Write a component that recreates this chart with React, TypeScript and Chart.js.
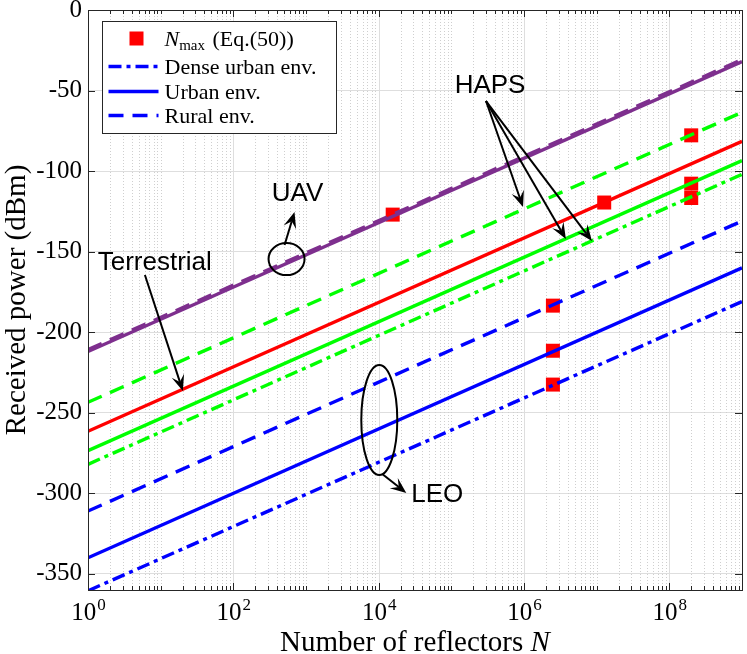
import React, { useEffect, useRef } from 'react';
import { Chart, registerables } from 'chart.js';

Chart.register(...registerables);

// ---------- data ----------
const N_RANGE = [1, 1e9];
// received power (dBm) at N = 1 and N = 1e9
const UAV_URBAN = [-212, -32];
const UAV_RURAL = [-210.8, -30.8];
const TERRESTRIAL = [-261.5, -81.5];
const HAPS_RURAL = [-243.5, -63.5];
const HAPS_URBAN = [-273.5, -93.5];
const HAPS_DENSE = [-282, -102];
const LEO_RURAL = [-311, -131];
const LEO_URBAN = [-340, -160];
const LEO_DENSE = [-360.5, -181];

// N_max markers (Eq. 50)
const NMAX_N = [1.56e4, 1.27e7, 2.0e8, 2.0e8, 2.0e8, 2.5e6, 2.5e6, 2.5e6];
const NMAX_P = [-127, -119.5, -77.8, -107.8, -116.7, -183.5, -211.5, -232.5];

const X_TICK_EXPONENTS = [0, 2, 4, 6, 8];
const Y_TICKS = [-350, -300, -250, -200, -150, -100, -50, 0];

// annotations (data coordinates: [N, dBm])
const UAV_LABEL = [764, -114.2];
const UAV_ELLIPSE = [540, -154.6];
const UAV_ARROW = [[507, -145.9], [695, -125.4]];
const TERR_LABEL = [8.3, -157];
const TERR_ARROW = [[6.07, -164.5], [20.2, -236.5]];
const HAPS_LABEL = [3.41e5, -47.2];
const HAPS_ARROW_FROM = [3.0e5, -56.5];
const HAPS_ARROW_TO = [[9.7e5, -122.3], [3.77e6, -142.1], [8.6e6, -143.4]];
const LEO_ELLIPSE = [1.02e4, -254.5];
const LEO_ARROW = [[1.12e4, -288], [2.4e4, -299.8]];
const LEO_LABEL = [2.81e4, -301];

// ---------- styles ----------
const SERIF = '"Liberation Serif", "Times New Roman", serif';
const SANS = '"Liberation Sans", Arial, sans-serif';
const PURPLE = '#7E2F8E';
const GREEN = '#00FF00';
const RED = '#FF0000';
const BLUE = '#0000FF';
const DASH = [15, 9];
const DASHDOT = [13, 5, 4, 5];
const AXIS = '#262626';
const LW = 3.4;

const line = (label: string, vals: number[], color: string, dash: number[]) => ({
  type: 'scatter' as const,
  label,
  data: [
    { x: N_RANGE[0], y: vals[0] },
    { x: N_RANGE[1], y: vals[1] },
  ],
  showLine: true,
  borderColor: color,
  borderWidth: LW,
  borderDash: dash,
  pointRadius: 0,
  fill: false,
  order: 1,
});

function drawArrow(ctx: CanvasRenderingContext2D, x0: number, y0: number, x1: number, y1: number) {
  const a = Math.atan2(y1 - y0, x1 - x0);
  const c = Math.cos(a), s = Math.sin(a);
  const L = 16, W = 6.5;
  ctx.beginPath();
  ctx.moveTo(x0, y0);
  ctx.lineTo(x1 - c * L * 0.6, y1 - s * L * 0.6);
  ctx.stroke();
  ctx.beginPath();
  ctx.moveTo(x1, y1);
  ctx.lineTo(x1 - L * c + W * s, y1 - L * s - W * c);
  ctx.lineTo(x1 - 0.6 * L * c, y1 - 0.6 * L * s);
  ctx.lineTo(x1 - L * c - W * s, y1 - L * s + W * c);
  ctx.closePath();
  ctx.fill();
}

const zeroPad = (s: any) => {
  s.paddingTop = 0;
  s.paddingBottom = 0;
  s.paddingLeft = 0;
  s.paddingRight = 0;
};

const decorPlugin = {
  id: 'decor',
  beforeDatasetsDraw(chart: any) {
    const { ctx, chartArea: ca, scales } = chart;
    const xs = scales.x;
    ctx.save();
    ctx.lineWidth = 1;
    for (let d = 0; d <= 8; d++) {
      for (let k = 1; k <= 9; k++) {
        const v = k * Math.pow(10, d);
        if (k === 1 && d % 2 === 0) continue;
        const px = Math.round(xs.getPixelForValue(v)) + 0.5;
        if (px <= ca.left + 1 || px >= ca.right - 1) continue;
        ctx.strokeStyle = '#cfcfcf';
        ctx.setLineDash([1, 2]);
        ctx.beginPath();
        ctx.moveTo(px, ca.top);
        ctx.lineTo(px, ca.bottom);
        ctx.stroke();
      }
    }
    ctx.setLineDash([]);
    ctx.strokeStyle = '#dedede';
    for (const e of X_TICK_EXPONENTS) {
      const px = Math.round(xs.getPixelForValue(Math.pow(10, e))) + 0.5;
      if (px <= ca.left + 1) continue;
      ctx.beginPath();
      ctx.moveTo(px, ca.top);
      ctx.lineTo(px, ca.bottom);
      ctx.stroke();
    }
    ctx.restore();
  },
  afterDatasetsDraw(chart: any) {
    const { ctx, chartArea: ca, scales } = chart;
    const xs = scales.x, ys = scales.y;
    ctx.save();
    ctx.strokeStyle = AXIS;
    ctx.lineWidth = 1;
    ctx.setLineDash([]);
    // ticks (inside, MATLAB style)
    for (let d = 0; d <= 8; d++) {
      for (let k = 1; k <= 9; k++) {
        const v = k * Math.pow(10, d);
        const major = k === 1 && d % 2 === 0;
        const len = major ? 7 : 4;
        const px = Math.round(xs.getPixelForValue(v)) + 0.5;
        if (px > ca.right) continue;
        ctx.beginPath();
        ctx.moveTo(px, ca.bottom);
        ctx.lineTo(px, ca.bottom - len);
        ctx.moveTo(px, ca.top);
        ctx.lineTo(px, ca.top + len);
        ctx.stroke();
      }
    }
    for (const t of Y_TICKS) {
      const py = Math.round(ys.getPixelForValue(t)) + 0.5;
      ctx.beginPath();
      ctx.moveTo(ca.left, py);
      ctx.lineTo(ca.left + 7, py);
      ctx.moveTo(ca.right, py);
      ctx.lineTo(ca.right - 7, py);
      ctx.stroke();
    }
    ctx.strokeRect(Math.round(ca.left) + 0.5, Math.round(ca.top) + 0.5, Math.round(ca.right - ca.left), Math.round(ca.bottom - ca.top));

    // x tick labels 10^e
    ctx.fillStyle = '#000';
    ctx.textBaseline = 'alphabetic';
    ctx.textAlign = 'left';
    for (const e of X_TICK_EXPONENTS) {
      const px = xs.getPixelForValue(Math.pow(10, e));
      ctx.font = `25px ${SERIF}`;
      const w1 = ctx.measureText('10').width;
      ctx.font = `17px ${SERIF}`;
      const w2 = ctx.measureText(String(e)).width;
      const x0 = px - (w1 + w2) / 2;
      ctx.font = `25px ${SERIF}`;
      ctx.fillText('10', x0, ca.bottom + 30);
      ctx.font = `17px ${SERIF}`;
      ctx.fillText(String(e), x0 + w1 + 1, ca.bottom + 20);
    }
    // x title
    ctx.font = `29px ${SERIF}`;
    const t1 = 'Number of reflectors ';
    const w1 = ctx.measureText(t1).width;
    ctx.font = `italic 29px ${SERIF}`;
    const w2 = ctx.measureText('N').width;
    const cx = (ca.left + ca.right) / 2;
    const tx = cx - (w1 + w2) / 2;
    ctx.font = `29px ${SERIF}`;
    ctx.fillText(t1, tx, ca.bottom + 61);
    ctx.font = `italic 29px ${SERIF}`;
    ctx.fillText('N', tx + w1, ca.bottom + 61);
    ctx.restore();
  },
  afterDraw(chart: any) {
    const { ctx, chartArea: ca, scales } = chart;
    const xs = scales.x, ys = scales.y;
    const P = (p: number[]) => [xs.getPixelForValue(p[0]), ys.getPixelForValue(p[1])];
    ctx.save();
    ctx.beginPath();
    ctx.rect(ca.left, ca.top, ca.right - ca.left, ca.bottom - ca.top);
    ctx.clip();
    ctx.strokeStyle = '#000';
    ctx.fillStyle = '#000';
    ctx.lineWidth = 2;
    ctx.setLineDash([]);

    // ellipses
    let [ex, ey] = P(UAV_ELLIPSE);
    ctx.beginPath();
    ctx.ellipse(ex, ey, 18, 16, 0, 0, Math.PI * 2);
    ctx.stroke();
    [ex, ey] = P(LEO_ELLIPSE);
    ctx.beginPath();
    ctx.ellipse(ex, ey, 18, 55, 0, 0, Math.PI * 2);
    ctx.stroke();

    // arrows
    const arr = (a: number[], b: number[]) => {
      const [x0, y0] = P(a);
      const [x1, y1] = P(b);
      drawArrow(ctx, x0, y0, x1, y1);
    };
    arr(UAV_ARROW[0], UAV_ARROW[1]);
    arr(TERR_ARROW[0], TERR_ARROW[1]);
    for (const to of HAPS_ARROW_TO) arr(HAPS_ARROW_FROM, to);
    arr(LEO_ARROW[0], LEO_ARROW[1]);

    // labels
    ctx.font = `26px ${SANS}`;
    ctx.textBaseline = 'middle';
    ctx.textAlign = 'center';
    let [lx, ly] = P(UAV_LABEL);
    ctx.fillText('UAV', lx, ly);
    [lx, ly] = P(TERR_LABEL);
    ctx.fillText('Terrestrial', lx, ly);
    [lx, ly] = P(HAPS_LABEL);
    ctx.fillText('HAPS', lx, ly);
    [lx, ly] = P(LEO_LABEL);
    ctx.textAlign = 'left';
    ctx.fillText('LEO', lx, ly);
    ctx.restore();

    // legend
    ctx.save();
    const bx = ca.left + 14.5, by = ca.top + 11.5, bw = 234, bh = 112;
    ctx.fillStyle = '#fff';
    ctx.fillRect(bx, by, bw, bh);
    ctx.strokeStyle = AXIS;
    ctx.lineWidth = 1;
    ctx.strokeRect(bx, by, bw, bh);
    const rows = [by + 17, by + 45, by + 70, by + 94];
    const sx0 = bx + 6, sx1 = bx + 56, txx = bx + 62;
    // marker
    ctx.fillStyle = RED;
    ctx.fillRect(bx + 27, rows[0] - 7, 14, 14);
    ctx.fillStyle = '#000';
    ctx.textBaseline = 'alphabetic';
    ctx.textAlign = 'left';
    ctx.font = `italic 22px ${SERIF}`;
    ctx.fillText('N', txx, rows[0] + 7);
    const nW = ctx.measureText('N').width;
    ctx.font = `15px ${SERIF}`;
    ctx.fillText('max', txx + nW, rows[0] + 11);
    const mW = ctx.measureText('max').width;
    ctx.font = `22px ${SERIF}`;
    ctx.fillText(' (Eq.(50))', txx + nW + mW + 2, rows[0] + 7);
    const items: [string, number[]][] = [
      ['Dense urban env.', DASHDOT],
      ['Urban env.', []],
      ['Rural env.', DASH],
    ];
    items.forEach(([label, dash], i) => {
      const y = rows[i + 1];
      ctx.strokeStyle = BLUE;
      ctx.lineWidth = LW;
      ctx.setLineDash(dash);
      ctx.beginPath();
      ctx.moveTo(sx0, y);
      ctx.lineTo(sx1, y);
      ctx.stroke();
      ctx.setLineDash([]);
      ctx.fillStyle = '#000';
      ctx.font = `22px ${SERIF}`;
      ctx.fillText(label, txx, y + 7);
    });
    ctx.restore();
  },
};

export default function App() {
  const ref = useRef<HTMLCanvasElement>(null);
  useEffect(() => {
    if (!ref.current) return;
    const markers = {
      type: 'scatter' as const,
      label: 'N_max (Eq.(50))',
      data: NMAX_N.map((n, i) => ({ x: n, y: NMAX_P[i] })),
      showLine: false,
      pointStyle: 'rect',
      pointRadius: 9.9,
      pointBackgroundColor: RED,
      pointBorderWidth: 0,
      borderColor: RED,
      backgroundColor: RED,
      order: 10,
    };
    const chart = new Chart(ref.current, {
      type: 'scatter',
      data: {
        datasets: [
          markers as any,
          line('UAV urban', UAV_URBAN, PURPLE, []),
          line('UAV rural', UAV_RURAL, PURPLE, DASH),
          line('Terrestrial', TERRESTRIAL, RED, []),
          line('HAPS rural', HAPS_RURAL, GREEN, DASH),
          line('HAPS urban', HAPS_URBAN, GREEN, []),
          line('HAPS dense urban', HAPS_DENSE, GREEN, DASHDOT),
          line('LEO rural', LEO_RURAL, BLUE, DASH),
          line('LEO urban', LEO_URBAN, BLUE, []),
          line('LEO dense urban', LEO_DENSE, BLUE, DASHDOT),
        ],
      },
      options: {
        responsive: false,
        animation: false,
        devicePixelRatio: 1,
        layout: { padding: { top: 10, right: 5, left: 0, bottom: 0 }, autoPadding: false },
        plugins: { legend: { display: false }, tooltip: { enabled: false } },
        scales: {
          x: {
            type: 'logarithmic',
            min: N_RANGE[0],
            max: N_RANGE[1],
            grid: { display: false },
            border: { display: false },
            ticks: { display: false },
            afterFit: (s: any) => {
              s.height = 64;
              zeroPad(s);
            },
          },
          y: {
            min: -360,
            max: 0,
            afterBuildTicks: (s: any) => {
              s.ticks = Y_TICKS.map((v) => ({ value: v }));
            },
            grid: { color: '#dedede', drawTicks: false, lineWidth: 1 },
            border: { display: false },
            ticks: {
              autoSkip: false,
              padding: 6,
              color: '#000',
              font: { family: SERIF, size: 25 },
              callback: (v: any) => String(v),
            },
            title: {
              display: true,
              text: 'Received power (dBm)',
              color: '#000',
              font: { family: SERIF, size: 29 },
              padding: 0,
            },
            afterFit: (s: any) => {
              s.width = 88;
              zeroPad(s);
            },
          },
        },
      } as any,
      plugins: [decorPlugin],
    });
    return () => chart.destroy();
  }, []);
  return (
    <div style={{ position: 'absolute', left: 0, top: 0, width: 747, height: 654, background: '#fff' }}>
      <canvas ref={ref} width={747} height={654} style={{ display: 'block' }} />
    </div>
  );
}
